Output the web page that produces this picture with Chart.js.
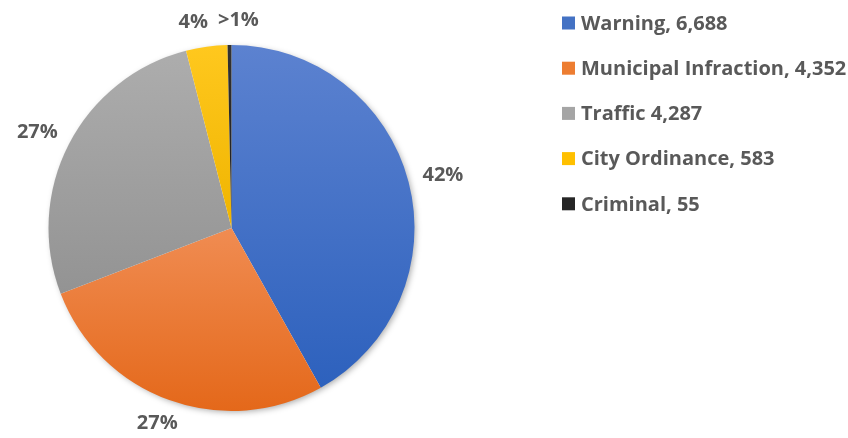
<!DOCTYPE html>
<html lang="en">
<head>
    <meta charset="UTF-8">
    <title>Citations by type</title>
    <style>
        body { margin: 0; background: #fff; }
        .wrap { width: 848px; height: 438px; }
    </style>
    <script src="https://cdn.jsdelivr.net/npm/chart.js"></script>
</head>
<body>
    <div class="wrap"><canvas id="pie"></canvas></div>
    <script>
        // data
        const categories = ['Warning', 'Municipal Infraction', 'Traffic', 'City Ordinance', 'Criminal'];
        const legendLabels = ['Warning, 6,688', 'Municipal Infraction, 4,352', 'Traffic 4,287', 'City Ordinance, 583', 'Criminal, 55'];
        const counts = [6688, 4352, 4287, 583, 55];
        const pctLabels = ['42%', '27%', '27%', '4%', '>1%'];

        // top / bottom colours of each slice gradient
        const topColors = ['#5c82d0', '#f08c52', '#adadad', '#ffc81e', '#333333'];
        const bottomColors = ['#2d61bd', '#e4681a', '#939393', '#efb400', '#1a1a1a'];
        const legendColors = ['#4472c4', '#ed7d31', '#a5a5a5', '#ffc000', '#262626'];

        const FONT = 'bold 20px "Open Sans", Lato, sans-serif';
        const TEXT = '#595959';

        // per-slice vertical gradient + soft shadow
        const shading = {
            id: 'shading',
            beforeDatasetsDraw(chart) {
                const ctx = chart.ctx;
                chart.getDatasetMeta(0).data.forEach((arc, i) => {
                    const p = arc.getProps(['x', 'y', 'startAngle', 'endAngle', 'outerRadius']);
                    let ys = [p.y];
                    const n = 24;
                    for (let k = 0; k <= n; k++) {
                        const a = p.startAngle + (p.endAngle - p.startAngle) * k / n;
                        ys.push(p.y + Math.sin(a) * p.outerRadius);
                    }
                    const g = ctx.createLinearGradient(0, Math.min(...ys), 0, Math.max(...ys));
                    g.addColorStop(0, topColors[i]);
                    g.addColorStop(1, bottomColors[i]);
                    arc.options.backgroundColor = g;
                });
                const m = chart.getDatasetMeta(0).data[0];
                ctx.save();
                ctx.shadowColor = 'rgba(0,0,0,0.35)';
                ctx.shadowBlur = 6;
                ctx.shadowOffsetX = 2;
                ctx.shadowOffsetY = 2;
                ctx.fillStyle = '#fff';
                ctx.beginPath();
                ctx.arc(m.x, m.y, m.outerRadius - 1, 0, Math.PI * 2);
                ctx.fill();
                ctx.restore();
            }
        };

        // percent labels outside the pie and legend on the right
        const labels = {
            id: 'labels',
            afterDatasetsDraw(chart) {
                const ctx = chart.ctx;
                const arcs = chart.getDatasetMeta(0).data;
                ctx.save();
                ctx.font = FONT;
                ctx.fillStyle = TEXT;
                ctx.textAlign = 'center';
                ctx.textBaseline = 'middle';
                const boxes = arcs.map((arc, i) => {
                    const p = arc.getProps(['x', 'y', 'startAngle', 'endAngle', 'outerRadius']);
                    const mid = (p.startAngle + p.endAngle) / 2;
                    const dx = Math.cos(mid), dy = Math.sin(mid);
                    const w = ctx.measureText(pctLabels[i]).width, h = 20;
                    const r = p.outerRadius + 15;
                    const ax = p.x + dx * r, ay = p.y + dy * r;
                    return { x: ax + dx * w / 2, y: ay + dy * h / 2, w: w, h: h };
                });
                // push overlapping neighbours apart sideways
                for (let i = 1; i < boxes.length; i++) {
                    const a = boxes[i - 1], b = boxes[i];
                    const need = (a.w + b.w) / 2 + 10;
                    const gap = Math.abs(b.x - a.x);
                    if (gap < need && Math.abs(b.y - a.y) < a.h) {
                        const s = (need - gap) / 2;
                        if (a.x <= b.x) { a.x -= s; b.x += s; } else { a.x += s; b.x -= s; }
                    }
                }
                boxes.forEach((b, i) => ctx.fillText(pctLabels[i], b.x, b.y));

                // legend
                ctx.textAlign = 'left';
                const lx = 562, ly = 23, step = 45.2, sq = 13;
                legendLabels.forEach((t, i) => {
                    const y = ly + i * step;
                    ctx.fillStyle = legendColors[i];
                    ctx.fillRect(lx, y - sq / 2, sq, sq);
                    ctx.fillStyle = TEXT;
                    ctx.fillText(t, lx + 19, y + 1);
                });
                ctx.restore();
            }
        };

        new Chart(document.getElementById('pie'), {
            type: 'pie',
            data: {
                labels: categories,
                datasets: [{
                    data: counts,
                    backgroundColor: legendColors,
                    borderWidth: 0
                }]
            },
            options: {
                responsive: true,
                maintainAspectRatio: false,
                animation: false,
                layout: { padding: { left: 48, right: 433, top: 45, bottom: 27 } },
                plugins: {
                    legend: { display: false },
                    tooltip: { enabled: false }
                }
            },
            plugins: [shading, labels]
        });
    </script>
</body>
</html>
